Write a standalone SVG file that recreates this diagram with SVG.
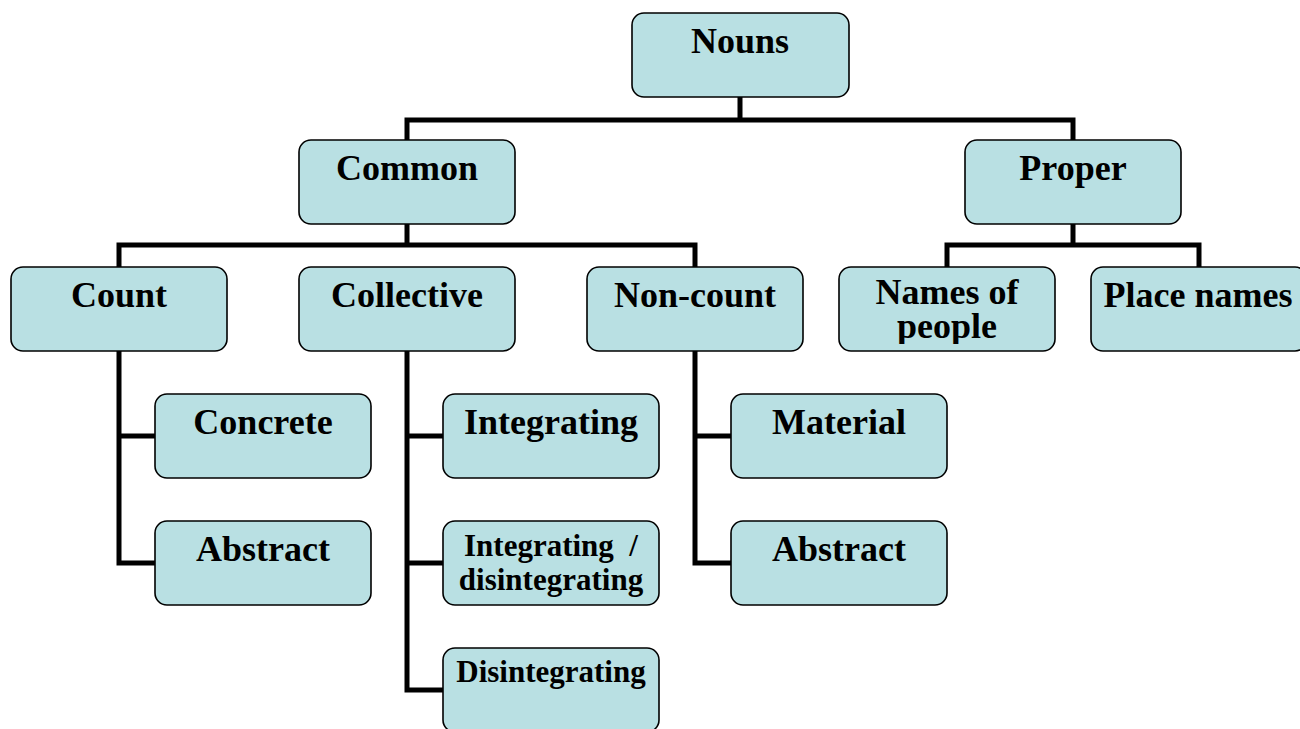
<svg xmlns="http://www.w3.org/2000/svg" width="1300" height="729" viewBox="0 0 1300 729">
<style>
.box{fill:#b9e0e3;stroke:#000;stroke-width:1.6}
.t{font-family:"Liberation Serif","Times New Roman",serif;font-weight:bold;font-size:36px;text-anchor:middle;fill:#000}
.s{font-size:31px}
.c{fill:none;stroke:#000;stroke-width:5}
</style>
<defs>
<clipPath id="clipNames"><rect x="839" y="267" width="216" height="77"/></clipPath>
</defs>
<rect width="1300" height="729" fill="#fff"/>
<g id="connectors">
<path class="c" d="M740 97V120M407 140V120H1073V140"/>
<path class="c" d="M407 224V245M119 267V245H695V267"/>
<path class="c" d="M1073 224V245M947 267V245H1199V267"/>
<path class="c" d="M119 351V563H155M119 436H155"/>
<path class="c" d="M407 351V690H443M407 436H443M407 563H443"/>
<path class="c" d="M695 351V563H731M695 436H731"/>
</g>
<g id="nouns"><rect class="box" x="632" y="13" width="217" height="84" rx="12"/><text class="t" x="740" y="53">Nouns</text></g>
<g id="common"><rect class="box" x="299" y="140" width="216" height="84" rx="12"/><text class="t" x="407" y="180">Common</text></g>
<g id="proper"><rect class="box" x="965" y="140" width="216" height="84" rx="12"/><text class="t" x="1073" y="180">Proper</text></g>
<g id="count"><rect class="box" x="11" y="267" width="216" height="84" rx="12"/><text class="t" x="119" y="307">Count</text></g>
<g id="collective"><rect class="box" x="299" y="267" width="216" height="84" rx="12"/><text class="t" x="407" y="307">Collective</text></g>
<g id="noncount"><rect class="box" x="587" y="267" width="216" height="84" rx="12"/><text class="t" x="695" y="307">Non-count</text></g>
<g id="namesofpeople"><rect class="box" x="839" y="267" width="216" height="84" rx="12"/><text class="t" x="947" y="304" font-size="32" clip-path="url(#clipNames)"><tspan x="947" y="304">Names of</tspan><tspan x="947" y="338">people</tspan></text></g>
<g id="placenames"><rect class="box" x="1091" y="267" width="216" height="84" rx="12"/><text class="t" x="1198" y="307">Place names</text></g>
<g id="concrete"><rect class="box" x="155" y="394" width="216" height="84" rx="12"/><text class="t" x="263" y="434">Concrete</text></g>
<g id="abstract1"><rect class="box" x="155" y="521" width="216" height="84" rx="12"/><text class="t" x="263" y="561">Abstract</text></g>
<g id="integrating"><rect class="box" x="443" y="394" width="216" height="84" rx="12"/><text class="t" x="551" y="434">Integrating</text></g>
<g id="intdis"><rect class="box" x="443" y="521" width="216" height="84" rx="12"/><text class="t s" xml:space="preserve"><tspan x="551" y="556">Integrating  /</tspan><tspan x="551" y="590">disintegrating</tspan></text></g>
<g id="disintegrating"><rect class="box" x="443" y="648" width="216" height="84" rx="12"/><text class="t s" x="551" y="682">Disintegrating</text></g>
<g id="material"><rect class="box" x="731" y="394" width="216" height="84" rx="12"/><text class="t" x="839" y="434">Material</text></g>
<g id="abstract2"><rect class="box" x="731" y="521" width="216" height="84" rx="12"/><text class="t" x="839" y="561">Abstract</text></g>
</svg>
